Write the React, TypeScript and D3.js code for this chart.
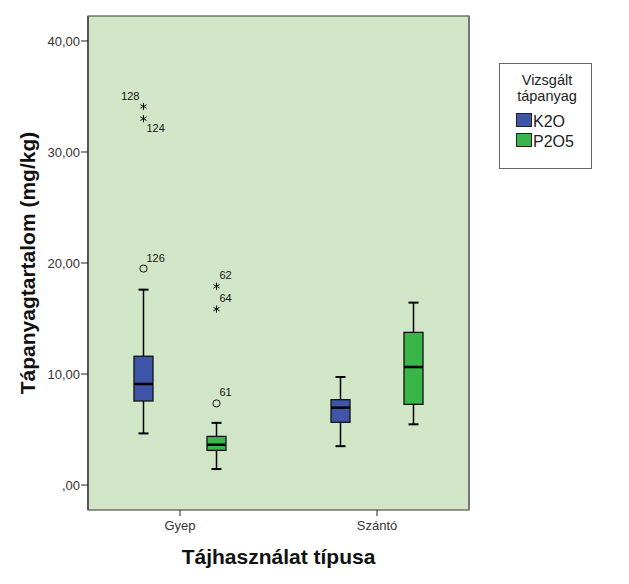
import React from "react";
import * as d3 from "d3";

const categories = ["Gyep", "Szántó"];
const series = ["K2O", "P2O5"];
const seriesColors = ["#3F55A8", "#3AB54A"];

// box stats per series, indexed by category
const k2oStats = [
  { lo: 4.65, q1: 7.57, med: 9.1, q3: 11.6, hi: 17.6 },
  { lo: 3.5, q1: 5.65, med: 6.97, q3: 7.69, hi: 9.73 },
];
const p2o5Stats = [
  { lo: 1.44, q1: 3.12, med: 3.63, q3: 4.38, hi: 5.6 },
  { lo: 5.47, q1: 7.27, med: 10.63, q3: 13.75, hi: 16.43 },
];
const outliers = [
  { cat: "Gyep", series: "K2O", value: 34.1, kind: "extreme", label: "128" },
  { cat: "Gyep", series: "K2O", value: 33.0, kind: "extreme", label: "124" },
  { cat: "Gyep", series: "K2O", value: 19.5, kind: "outlier", label: "126" },
  { cat: "Gyep", series: "P2O5", value: 17.9, kind: "extreme", label: "62" },
  { cat: "Gyep", series: "P2O5", value: 15.85, kind: "extreme", label: "64" },
  { cat: "Gyep", series: "P2O5", value: 7.35, kind: "outlier", label: "61" },
];
const yTicks = [0, 10, 20, 30, 40];
const yTitle = "Tápanyagtartalom (mg/kg)";
const xTitle = "Tájhasználat típusa";
const legendTitle = ["Vizsgált", "tápanyag"];

const W = 629;
const H = 584;
const plot = { left: 88, top: 16, right: 469, bottom: 510 };
const font = "Arial, 'Liberation Sans', sans-serif";

function fmt(v: number) {
  const s = v.toFixed(2).replace(".", ",");
  return s.startsWith("0,") ? s.slice(1) : s;
}

function Star({ x, y }: { x: number; y: number }) {
  const r = 3.6;
  const lines = [0, 1, 2].map((i) => {
    const a = (Math.PI / 3) * i + Math.PI / 2;
    return (
      <line
        key={i}
        x1={x - r * Math.cos(a)}
        y1={y - r * Math.sin(a)}
        x2={x + r * Math.cos(a)}
        y2={y + r * Math.sin(a)}
        stroke="#111"
        strokeWidth={1}
      />
    );
  });
  return <g>{lines}</g>;
}

export default function App() {
  const y = d3.scaleLinear().domain([-2.25, 42.25]).range([plot.bottom, plot.top]);
  const x = d3.scalePoint<string>().domain(categories).range([plot.left, plot.right]).padding(0.467);
  const xs = d3.scaleBand<string>().domain(series).range([-73, 73]);
  const boxW = 19;
  const capW = 9;
  const statsBySeries = [k2oStats, p2o5Stats];

  const cx = (cat: string, s: string) => (x(cat) as number) + (xs(s) as number) + xs.bandwidth() / 2;

  return (
    <svg width={W} height={H} style={{ position: "absolute", left: 0, top: 0 }} fontFamily={font}>
      <rect x={0} y={0} width={W} height={H} fill="#fff" />
      <rect
        x={plot.left}
        y={plot.top}
        width={plot.right - plot.left}
        height={plot.bottom - plot.top}
        fill="#D0E6C6"
        stroke="#333"
        strokeWidth={1}
      />
      <line x1={plot.left} y1={plot.top} x2={plot.left} y2={plot.bottom} stroke="#555" strokeWidth={2} />
      <line x1={plot.right} y1={plot.top} x2={plot.right} y2={plot.bottom} stroke="#777" strokeWidth={2} />

      {/* y axis ticks */}
      {yTicks.map((t) => (
        <g key={t}>
          <line x1={plot.left - 7} x2={plot.left} y1={y(t)} y2={y(t)} stroke="#222" />
          <text x={plot.left - 8} y={y(t)} dy="0.35em" textAnchor="end" fontSize={13} fill="#333">
            {fmt(t)}
          </text>
        </g>
      ))}
      {/* x axis ticks */}
      {categories.map((c) => (
        <g key={c}>
          <line x1={x(c)} x2={x(c)} y1={plot.bottom} y2={plot.bottom + 6} stroke="#222" />
          <text x={x(c)} y={plot.bottom + 20} textAnchor="middle" fontSize={13} fill="#333">
            {c}
          </text>
        </g>
      ))}

      {/* boxes */}
      {series.map((s, si) =>
        categories.map((c, ci) => {
          const st = statsBySeries[si][ci];
          const xc = cx(c, s);
          return (
            <g key={s + c}>
              <line x1={xc} x2={xc} y1={y(st.hi)} y2={y(st.q3)} stroke="#000" strokeWidth={1.5} />
              <line x1={xc} x2={xc} y1={y(st.q1)} y2={y(st.lo)} stroke="#000" strokeWidth={1.5} />
              <line x1={xc - capW / 2 - 0.5} x2={xc + capW / 2 + 0.5} y1={y(st.hi)} y2={y(st.hi)} stroke="#000" strokeWidth={2} />
              <line x1={xc - capW / 2 - 0.5} x2={xc + capW / 2 + 0.5} y1={y(st.lo)} y2={y(st.lo)} stroke="#000" strokeWidth={2} />
              <rect
                x={xc - boxW / 2}
                y={y(st.q3)}
                width={boxW}
                height={y(st.q1) - y(st.q3)}
                fill={seriesColors[si]}
                stroke="#111"
                strokeWidth={1.3}
              />
              <line x1={xc - boxW / 2} x2={xc + boxW / 2} y1={y(st.med)} y2={y(st.med)} stroke="#000" strokeWidth={2.5} />
            </g>
          );
        })
      )}

      {/* outliers */}
      {outliers.map((o, i) => {
        const xc = cx(o.cat, o.series);
        const yc = y(o.value);
        const prev = outliers[i - 1];
        const next = outliers[i + 1];
        const leftLabel =
          o.kind === "extreme" && next && next.kind === "extreme" && next.series === o.series && Math.abs(next.value - o.value) < 2;
        const belowLabel =
          o.kind === "extreme" && prev && prev.kind === "extreme" && prev.series === o.series && Math.abs(prev.value - o.value) < 2;
        return (
          <g key={o.label}>
            {o.kind === "extreme" ? (
              <Star x={xc} y={yc} />
            ) : (
              <circle cx={xc} cy={yc} r={3.6} fill="none" stroke="#111" strokeWidth={1} />
            )}
            <text
              x={leftLabel ? xc - 4 : xc + 3}
              y={leftLabel ? yc - 6 : belowLabel ? yc + 13 : yc - 7}
              textAnchor={leftLabel ? "end" : "start"}
              fontSize={11}
              fill="#111"
            >
              {o.label}
            </text>
          </g>
        );
      })}

      {/* titles */}
      <text
        transform={`translate(35, ${(plot.top + plot.bottom) / 2}) rotate(-90)`}
        textAnchor="middle"
        fontSize={21}
        fontWeight="bold"
        fill="#111"
      >
        {yTitle}
      </text>
      <text x={(plot.left + plot.right) / 2} y={564} textAnchor="middle" fontSize={21} fontWeight="bold" fill="#111">
        {xTitle}
      </text>

      {/* legend */}
      <g>
        <rect x={499.5} y={63.5} width={92} height={105} fill="#fff" stroke="#666" strokeWidth={1} />
        {legendTitle.map((t, i) => (
          <text key={t} x={547} y={85 + i * 16} textAnchor="middle" fontSize={14.5} fill="#222">
            {t}
          </text>
        ))}
        {series.map((s, i) => (
          <g key={s}>
            <rect x={516.5} y={113.5 + i * 20} width={15} height={13} fill={seriesColors[i]} stroke="#222" />
            <text x={533} y={127 + i * 20} fontSize={16} fill="#222">
              {s}
            </text>
          </g>
        ))}
      </g>
    </svg>
  );
}
